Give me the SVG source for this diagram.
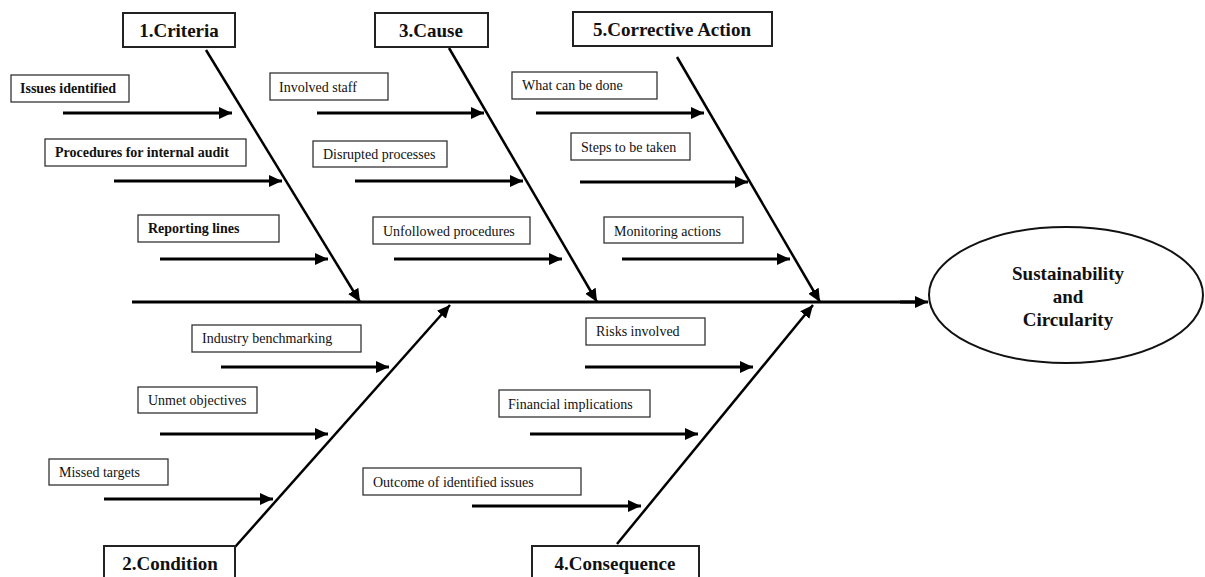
<svg xmlns="http://www.w3.org/2000/svg" width="1205" height="577" viewBox="0 0 1205 577">
<style>
.bg{fill:#fff}
.lbl rect{fill:#fff;stroke:#333;stroke-width:1.3}
.lbl text{font-family:"Liberation Serif",serif;font-size:14px;fill:#111}
.lbl.b text{font-weight:bold}
.ttl rect{fill:#fff;stroke:#222;stroke-width:2}
.ttl text{font-family:"Liberation Serif",serif;font-size:19px;font-weight:bold;fill:#111;text-anchor:middle}
.h{stroke:#000;stroke-width:3;fill:none;marker-end:url(#ah)}
.d{stroke:#000;stroke-width:2.5;fill:none;marker-end:url(#ah)}
.sp{stroke:#000;stroke-width:3;fill:none}
.eff ellipse{fill:#fff;stroke:#111;stroke-width:2}
.eff text{font-family:"Liberation Serif",serif;font-size:19px;font-weight:bold;fill:#111;text-anchor:middle}
</style>
<defs>
<marker id="ah" markerUnits="userSpaceOnUse" markerWidth="14" markerHeight="12" refX="13" refY="6" orient="auto">
<path d="M0,0 L13,6 L0,12 z" fill="#000"/>
</marker>
</defs>
<rect class="bg" x="0" y="0" width="1205" height="577"/>
<g id="connectors">
<line class="sp" x1="132" y1="302" x2="915" y2="302"/>
<line class="h" x1="900" y1="302" x2="928" y2="302"/>
<line class="d" x1="206" y1="50" x2="360" y2="302"/>
<line class="d" x1="449" y1="48" x2="597" y2="302"/>
<line class="d" x1="677" y1="57" x2="820" y2="302"/>
<line class="d" x1="235" y1="547" x2="450" y2="305"/>
<line class="d" x1="617" y1="544" x2="813" y2="305"/>
<line class="h" x1="63" y1="113" x2="232" y2="113"/>
<line class="h" x1="114" y1="181" x2="282" y2="181"/>
<line class="h" x1="160" y1="259" x2="328" y2="259"/>
<line class="h" x1="317" y1="113" x2="484" y2="113"/>
<line class="h" x1="355" y1="181" x2="523" y2="181"/>
<line class="h" x1="394" y1="259" x2="562" y2="259"/>
<line class="h" x1="536" y1="113" x2="704" y2="113"/>
<line class="h" x1="580" y1="182" x2="748" y2="182"/>
<line class="h" x1="622" y1="259" x2="790" y2="259"/>
<line class="h" x1="221" y1="367" x2="389" y2="367"/>
<line class="h" x1="160" y1="434" x2="328" y2="434"/>
<line class="h" x1="104" y1="499" x2="273" y2="499"/>
<line class="h" x1="585" y1="367" x2="753" y2="367"/>
<line class="h" x1="530" y1="434" x2="698" y2="434"/>
<line class="h" x1="472" y1="506" x2="641" y2="506"/>
</g>
<g id="criteria" class="ttl"><rect x="123" y="13" width="112" height="34"/><text x="179" y="37">1.Criteria</text></g>
<g id="cause" class="ttl"><rect x="375" y="13" width="113" height="34"/><text x="431" y="37">3.Cause</text></g>
<g id="corrective" class="ttl"><rect x="573" y="12" width="199" height="34"/><text x="672" y="36">5.Corrective Action</text></g>
<g id="condition" class="ttl"><rect x="104" y="546" width="131" height="40"/><text x="170" y="570">2.Condition</text></g>
<g id="consequence" class="ttl"><rect x="532" y="546" width="167" height="40"/><text x="615" y="570">4.Consequence</text></g>
<g id="issues" class="lbl b"><rect x="11" y="75" width="118" height="27"/><text x="20" y="93">Issues identified</text></g>
<g id="procedures" class="lbl b"><rect x="45" y="139" width="201" height="27"/><text x="55" y="157">Procedures for internal audit</text></g>
<g id="reporting" class="lbl b"><rect x="138" y="215" width="141" height="27"/><text x="148" y="233">Reporting lines</text></g>
<g id="staff" class="lbl"><rect x="270" y="73" width="118" height="27"/><text x="279" y="92">Involved staff</text></g>
<g id="disrupted" class="lbl"><rect x="313" y="141" width="134" height="26"/><text x="323" y="159">Disrupted processes</text></g>
<g id="unfollowed" class="lbl"><rect x="373" y="217" width="157" height="27"/><text x="383" y="236">Unfollowed procedures</text></g>
<g id="whatdone" class="lbl"><rect x="512" y="72" width="145" height="27"/><text x="522" y="90">What can be done</text></g>
<g id="steps" class="lbl"><rect x="571" y="133" width="119" height="27"/><text x="581" y="152">Steps to be taken</text></g>
<g id="monitoring" class="lbl"><rect x="604" y="217" width="139" height="26"/><text x="614" y="236">Monitoring actions</text></g>
<g id="industry" class="lbl"><rect x="192" y="325" width="169" height="27"/><text x="202" y="343">Industry benchmarking</text></g>
<g id="unmet" class="lbl"><rect x="138" y="387" width="119" height="26"/><text x="148" y="405">Unmet objectives</text></g>
<g id="missed" class="lbl"><rect x="49" y="459" width="119" height="26"/><text x="59" y="477">Missed targets</text></g>
<g id="risks" class="lbl"><rect x="586" y="318" width="119" height="27"/><text x="596" y="336">Risks involved</text></g>
<g id="financial" class="lbl"><rect x="499" y="390" width="151" height="27"/><text x="508" y="409">Financial implications</text></g>
<g id="outcome" class="lbl"><rect x="363" y="468" width="218" height="27"/><text x="373" y="487">Outcome of identified issues</text></g>
<g id="effect" class="eff"><ellipse cx="1066" cy="295" rx="137" ry="68"/><text x="1068" y="280">Sustainability</text><text x="1068" y="303">and</text><text x="1068" y="326">Circularity</text></g>
</svg>
